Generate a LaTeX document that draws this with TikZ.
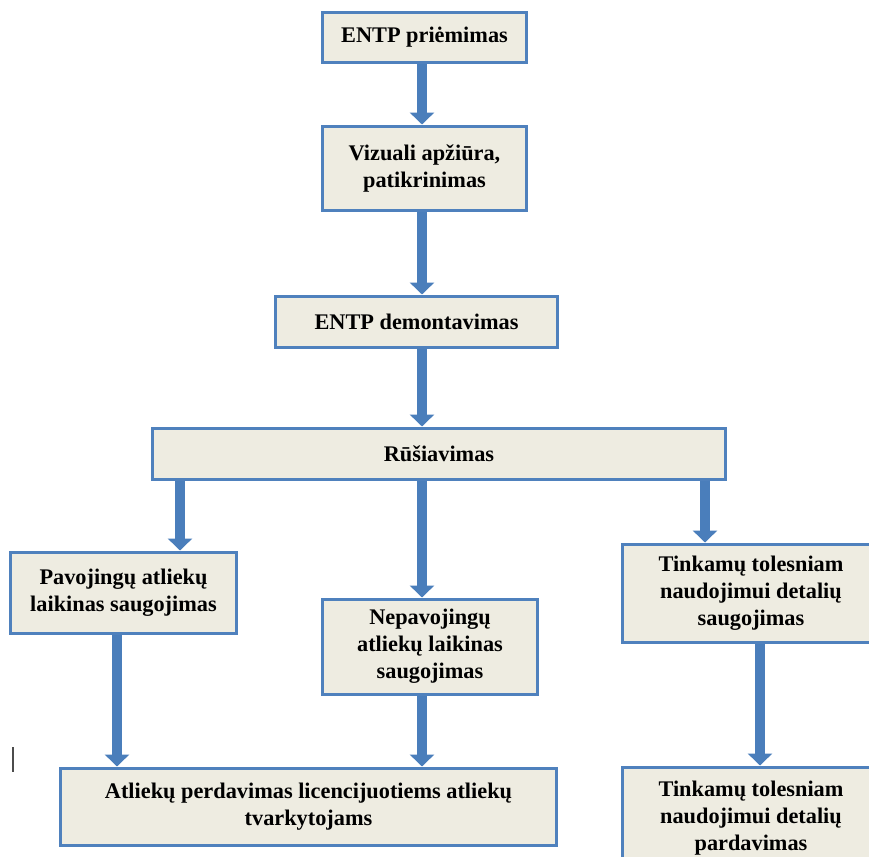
\documentclass[tikz,border=0pt]{standalone}
\usepackage{fontspec}
\setmainfont{Liberation Serif}
\usetikzlibrary{arrows.meta}
\definecolor{boxfill}{HTML}{EEECE1}
\definecolor{boxline}{HTML}{4F81BD}
\definecolor{arrowblue}{HTML}{4A7EBB}
\tikzset{
  stage/.style={draw=boxline, line width=0.06cm, fill=boxfill, align=center,
    font=\bfseries\fontsize{12.7}{15.4}\selectfont, inner sep=0pt},
  flow/.style={arrowblue, line width=0.2cm, -{Triangle[width=0.48cm,length=0.24cm]}},
}
\begin{document}
\begin{tikzpicture}[x=0.02cm,y=-0.02cm]
  \useasboundingbox (0,0) rectangle (869,856);
  \node[stage, minimum width=4.10cm, minimum height=1.02cm] (recv) at (424.5,37.5) {ENTP priėmimas};
  \node[stage, minimum width=4.10cm, minimum height=1.70cm] (inspect) at (424.5,168.5) {Vizuali apžiūra,\\patikrinimas};
  \node[stage, minimum width=5.66cm, minimum height=1.02cm] (dismantle) at (416.5,321.5) {ENTP demontavimas};
  \node[stage, minimum width=11.48cm, minimum height=1.02cm] (sort) at (439,453.5) {Rūšiavimas};
  \node[stage, minimum width=4.54cm, minimum height=1.62cm] (hazard) at (123.5,592.5) {Pavojingų atliekų\\laikinas saugojimas};
  \node[stage, minimum width=4.32cm, minimum height=1.90cm] (nonhazard) at (430,646.5) {Nepavojingų\\atliekų laikinas\\saugojimas};
  \node[stage, minimum width=5.16cm, minimum height=1.96cm] (partstore) at (751,593) {Tinkamų tolesniam\\naudojimui detalių\\saugojimas};
  \node[stage, minimum width=9.94cm, minimum height=1.54cm] (handover) at (308.5,806.5) {Atliekų perdavimas licencijuotiems atliekų\\tvarkytojams};
  \node[stage, minimum width=5.16cm, minimum height=2.04cm] (partsale) at (751,818) {Tinkamų tolesniam\\naudojimui detalių\\pardavimas};

  % arrow columns
  \coordinate (midline) at (422,0);
  \coordinate (leftdrop) at (180,0);
  \coordinate (rightdrop) at (705,0);
  \coordinate (leftdown) at (117,0);
  \coordinate (rightdown) at (760,0);

  \draw[flow] (recv.south -| midline) -- (inspect.north -| midline);
  \draw[flow] (inspect.south -| midline) -- (dismantle.north -| midline);
  \draw[flow] (dismantle.south -| midline) -- (sort.north -| midline);
  \draw[flow] (sort.south -| leftdrop) -- (hazard.north -| leftdrop);
  \draw[flow] (sort.south -| midline) -- (nonhazard.north -| midline);
  \draw[flow] (sort.south -| rightdrop) -- (partstore.north -| rightdrop);
  \draw[flow] (hazard.south -| leftdown) -- (handover.north -| leftdown);
  \draw[flow] (nonhazard.south -| midline) -- (handover.north -| midline);
  \draw[flow] (partstore.south -| rightdown) -- (partsale.north -| rightdown);

  \draw[gray!60!black, line width=0.04cm] (13,747) -- (13,772);
\end{tikzpicture}
\end{document}
